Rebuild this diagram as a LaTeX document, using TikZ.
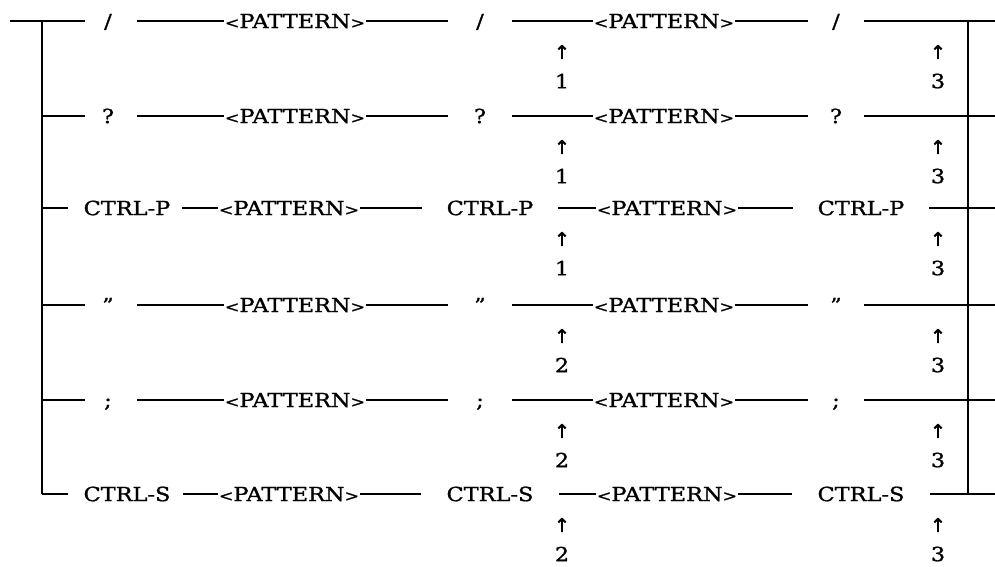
\documentclass[tikz,border=0pt]{standalone}
\usepackage{graphicx}
\usepackage{fontspec}
\setmainfont{DejaVu Serif}[FakeBold=1.1]
\newfontfamily\arrowfont{DejaVu Sans}[FakeBold=1.5]
% printed text is set a little wider than the font's natural width
\newcommand\wide[1]{\scalebox{1.15}[1]{#1}}
\newcommand\lt{{\fontsize{15}{15}\selectfont<}}
\newcommand\gt{{\fontsize{15}{15}\selectfont>}}
\newcommand\pattern{\wide{\lt PATTERN\gt}}
\tikzset{
  txt/.style={inner ysep=0pt, text height=14.2pt, text depth=0pt, anchor=center,
    font=\fontsize{19.5}{19.5}\selectfont},
  sym/.style={txt, inner xsep=0pt, minimum width=58pt},
  ctrl/.style={txt, inner xsep=25pt},
  pat/.style={txt, inner xsep=1pt},
  rule/.style={line width=1.6pt},
  bracket/.style={line width=2.4pt},
  uparr/.style={inner sep=0pt, font=\arrowfont\fontsize{19}{19}\selectfont},
  num/.style={inner sep=0pt, font=\fontsize{19.5}{19.5}\selectfont},
}
% one alternative of the syntax: delimiter, pattern, delimiter, pattern, delimiter
\newcommand\symrow[4]{% id, delimiter, y, back-reference number
  \node[sym] (a#1) at (108,#3) {\wide{#2}};
  \node[pat] (p#1) at (295,#3) {\pattern};
  \node[sym, minimum width=64pt] (b#1) at (480,#3) {\wide{#2}};
  \node[pat] (q#1) at (664,#3) {\pattern};
  \node[sym, minimum width=56pt] (c#1) at (836,#3) {\wide{#2}};
  \coordinate (e#1) at (995,#3);
  \draw[rule] (a#1) -- (p#1) (p#1) -- (b#1) (b#1) -- (q#1) (q#1) -- (c#1) (c#1) -- (e#1);
  \node[uparr] (u#1) at (562,#3+31) {↑};
  \node[num] (n#1) at (562,#3+60) {\wide{#4}};
  \node[uparr] (v#1) at (938,#3+31) {↑};
  \node[num] (m#1) at (938,#3+60) {\wide{3}};
}
\newcommand\ctrlrow[4]{% id, key name, y, back-reference number
  \node[ctrl, inner xsep=12pt] (a#1) at (127,#3) {\wide{#2}};
  \node[pat] (p#1) at (289,#3) {\pattern};
  \node[ctrl] (b#1) at (490,#3) {\wide{#2}};
  \node[pat] (q#1) at (667,#3) {\pattern};
  \node[ctrl] (c#1) at (861,#3) {\wide{#2}};
  \coordinate (e#1) at (995,#3);
  \draw[rule] (a#1) -- (p#1) (p#1) -- (b#1) (b#1) -- (q#1) (q#1) -- (c#1) (c#1) -- (e#1);
  \node[uparr] (u#1) at (562,#3+31) {↑};
  \node[num] (n#1) at (562,#3+60) {\wide{#4}};
  \node[uparr] (v#1) at (938,#3+31) {↑};
  \node[num] (m#1) at (938,#3+60) {\wide{3}};
}
\begin{document}
\begin{tikzpicture}[x=1pt,y=-1pt]
\useasboundingbox (0,0) rectangle (995,567);

\symrow{1}{/}{21}{1}
\symrow{2}{?}{116}{1}
\ctrlrow{3}{CTRL-P}{208}{1}
\symrow{4}{''}{305}{2}
\symrow{5}{;}{400}{2}
\ctrlrow{6}{CTRL-S}{494}{2}

% left bracket joining the alternatives
\coordinate (ltop) at (42,21);
\coordinate (lbot) at (42,494);
\coordinate (lstart) at (10,21);
\draw[bracket] (ltop) -- (lbot);
\draw[rule] (lstart) -- (85,21);
\foreach \y in {116,305,400} \draw[rule] (42,\y) -- (85,\y);
\foreach \y in {208,494} \draw[rule] (42,\y) -- (68,\y);

% right bracket collecting the alternatives
\coordinate (rtop) at (968,21);
\coordinate (rbot) at (968,494);
\draw[bracket] (rtop) -- (rbot);
\end{tikzpicture}
\end{document}
